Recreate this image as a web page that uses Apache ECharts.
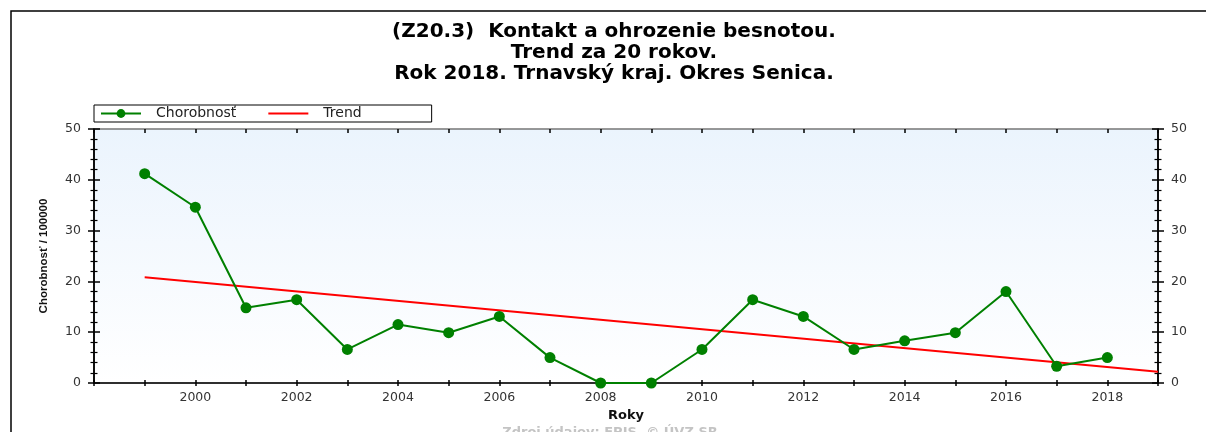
<!DOCTYPE html>
<html>
<head>
<meta charset="utf-8">
<title>Z20.3 Senica</title>
<script src="https://cdn.jsdelivr.net/npm/echarts@6/dist/echarts.min.js"></script>
<style>
    html, body {margin: 0; padding: 0; background: #fff;}
    #chart {width: 1206px; height: 432px;}
</style>
</head>
<body>
<div id="chart"></div>
<script>
// roky a chorobnost na 100000
var years = [1999, 2000, 2001, 2002, 2003, 2004, 2005, 2006, 2007, 2008,
             2009, 2010, 2011, 2012, 2013, 2014, 2015, 2016, 2017, 2018];
var chorobnost = [41.2, 34.6, 14.8, 16.4, 6.6, 11.5, 9.9, 13.1, 5.0, 0,
                  0, 6.6, 16.4, 13.1, 6.6, 8.3, 9.9, 18.0, 3.3, 5.0];
// trend - koncove body priamky
var trendYears = [1999, 2019];
var trendValues = [20.8, 2.2];

var titleText = '(Z20.3)  Kontakt a ohrozenie besnotou.\nTrend za 20 rokov.\nRok 2018. Trnavský kraj. Okres Senica.';
var sourceText = 'Zdroj údajov: EPIS, © ÚVZ SR';

var dataChor = [];
for (var i = 0; i < years.length; i++) {
    dataChor.push([years[i], chorobnost[i]]);
}
var dataTrend = [];
for (var i = 0; i < trendYears.length; i++) {
    dataTrend.push([trendYears[i], trendValues[i]]);
}

var labelFont = {fontFamily: 'DejaVu Sans', fontSize: 12.5, color: '#333'};

function xAxisBase(pos, inside, showLabel, len, lineColor) {
    return {
        type: 'value', min: 1998, max: 2019, interval: 1, position: pos,
        axisLine: {show: true, onZero: false, lineStyle: {color: lineColor, width: 1.5}},
        axisTick: {show: true, inside: inside, length: len, lineStyle: {color: '#000', width: 1.5}},
        axisLabel: {
            show: showLabel, margin: 8,
            fontFamily: labelFont.fontFamily, fontSize: labelFont.fontSize, color: labelFont.color,
            formatter: function (v) {
                if (v % 2 !== 0 || v === 1998) return '';
                return String(v);
            }
        },
        splitLine: {show: false}
    };
}

function yAxisBase(pos, inside, showLabel) {
    return {
        type: 'value', min: 0, max: 50, interval: 10, position: pos,
        axisLine: {show: true, onZero: false, lineStyle: {color: '#000', width: 1.5}},
        axisTick: {show: true, inside: inside, length: 6, lineStyle: {color: '#000', width: 1.5}},
        minorTick: {show: true, splitNumber: 5, length: 3.5, lineStyle: {color: '#000', width: 1.2}},
        axisLabel: {show: showLabel, margin: 13, fontFamily: labelFont.fontFamily, fontSize: labelFont.fontSize, color: labelFont.color},
        splitLine: {show: false}
    };
}

var chart = echarts.init(document.getElementById('chart'), null, {renderer: 'canvas'});

var xBottom = xAxisBase('bottom', false, true, 3, '#222');
xBottom.name = 'Roky';
xBottom.nameLocation = 'middle';
xBottom.nameGap = 21;
xBottom.nameTextStyle = {fontFamily: 'DejaVu Sans', fontWeight: 'bold', fontSize: 13, color: '#111'};

var yLeft = yAxisBase('left', false, true);
yLeft.name = 'Chorobnosť / 100000';
yLeft.nameLocation = 'middle';
yLeft.nameGap = 44;
yLeft.nameTextStyle = {fontFamily: 'Liberation Sans', fontWeight: 'bold', fontSize: 11.5, color: '#111'};

var option = {
    animation: false,
    backgroundColor: '#fff',
    title: [
        {
            text: titleText,
            left: 614,
            top: 21,
            padding: 0,
            textAlign: 'center',
            textStyle: {fontFamily: 'DejaVu Sans', fontWeight: 'bold', fontSize: 20, lineHeight: 21, color: '#000'}
        },
        {
            text: sourceText,
            left: 610,
            top: 426,
            padding: 0,
            textAlign: 'center',
            textStyle: {fontFamily: 'DejaVu Sans', fontWeight: 'bold', fontSize: 13, color: '#c4c4c4'}
        }
    ],
    legend: {
        data: [
            {name: 'Chorobnosť'},
            {name: 'Trend', icon: 'path://M0,0 L40,0 L40,2 L0,2 Z'}
        ],
        left: 94,
        top: 105,
        orient: 'horizontal',
        padding: [1, 70, 1, 6],
        itemWidth: 40,
        itemHeight: 11,
        itemGap: 32,
        backgroundColor: '#fff',
        borderColor: '#000',
        borderWidth: 1,
        textStyle: {fontFamily: 'DejaVu Sans', fontSize: 14, lineHeight: 15, color: '#222', padding: [0, 0, 0, 10]}
    },
    grid: {
        left: 94, right: 48, top: 129, bottom: 49,
        show: true,
        borderWidth: 0,
        backgroundColor: new echarts.graphic.LinearGradient(0, 0, 0, 1, [
            {offset: 0, color: '#ebf4fd'},
            {offset: 1, color: '#ffffff'}
        ])
    },
    xAxis: [
        xBottom,
        xAxisBase('bottom', true, false, 3, '#222'),
        xAxisBase('top', true, false, 4, '#777')
    ],
    yAxis: [
        yLeft,
        yAxisBase('left', true, false),
        yAxisBase('right', false, true),
        yAxisBase('right', true, false)
    ],
    series: [
        {
            name: 'Trend',
            type: 'line',
            xAxisIndex: 0,
            yAxisIndex: 0,
            data: dataTrend,
            symbol: 'none',
            lineStyle: {color: '#ff0000', width: 2},
            itemStyle: {color: '#ff0000'}
        },
        {
            name: 'Chorobnosť',
            type: 'line',
            xAxisIndex: 0,
            yAxisIndex: 0,
            data: dataChor,
            symbol: 'circle',
            symbolSize: 11,
            lineStyle: {color: '#008000', width: 2},
            itemStyle: {color: '#008000'}
        }
    ],
    graphic: [
        {
            type: 'rect',
            shape: {x: 11, y: 11, width: 1400, height: 600},
            style: {fill: 'none', stroke: '#000', lineWidth: 1.5},
            silent: true,
            z: -1
        }
    ]
};

chart.setOption(option);
</script>
</body>
</html>
